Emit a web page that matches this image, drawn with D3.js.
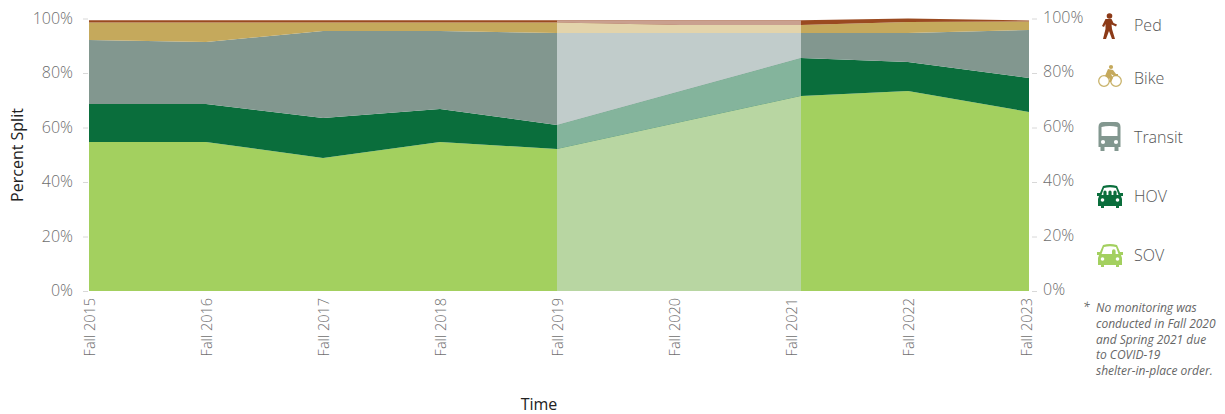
<!DOCTYPE html>
<html><head><meta charset="utf-8">
<script src="https://cdn.jsdelivr.net/npm/d3@7"></script>
<style>
html,body{margin:0;padding:0;background:#fff}
svg{display:block}
text{font-family:"Open Sans",sans-serif}
</style></head><body>
<svg id="c" width="1225" height="414"></svg>
<script>
const years=[2015,2016,2017,2018,2019,2020,2021,2022,2023];
const tickLabels=years.map(y=>"Fall "+y);
// Values are each mode's share in percent.
const sov=[54.7,54.7,48.8,54.7,52.1,61.8,71.6,73.4,65.7];
const hov=[13.9,13.9,14.7,12.1,8.8,11.4,13.9,10.6,12.5];
const transit=[23.5,22.8,31.9,28.6,33.8,21.5,9.2,10.7,17.6];
const bike=[6.4,7.1,3.1,3.1,3.8,2.9,2.9,4.0,3.1];
const ped=[0.9,0.9,0.9,0.9,0.9,1.8,1.8,1.3,0.4];
const seriesNames=["SOV","HOV","Transit","Bike","Ped"];
const seriesValues=[sov,hov,transit,bike,ped];
const seriesColors=["#a3d05f","#0a6e3c","#82978f","#c5a95c","#9a4a20"];
const fadedColors=["#b8d6a2","#84b49c","#c1cccb","#e3d4ab","#c9a08f"];
const yTicks=[0,20,40,60,80,100];
const noteLines=["No monitoring was","conducted in Fall 2020","and Spring 2021 due","to COVID-19","shelter-in-place order."];
const gapStart=2019,gapEnd=2021;

const svg=d3.select("#c");
const x=d3.scaleLinear().domain([2015,2019,2021,2022,2023]).range([89,557,801,908,1029]);
const xTick=d3.scalePoint().domain(tickLabels).range([89,1026]);
const y=d3.scaleLinear().domain([0,100]).range([291,18.5]);

const rows=years.map((yr,i)=>{const r={year:yr};seriesNames.forEach((n,j)=>r[n]=seriesValues[j][i]);return r;});
const stacked=d3.stack().keys(seriesNames)(rows);
const area=d3.area().x(d=>x(d.data.year)).y0(d=>y(d[0])).y1(d=>y(d[1]));

svg.append("defs").append("clipPath").attr("id","gap").append("rect")
  .attr("x",x(gapStart)).attr("width",x(gapEnd)-x(gapStart)).attr("y",0).attr("height",y(0));

svg.append("g").selectAll("path").data(stacked).join("path")
  .attr("d",area).attr("fill",(d,i)=>seriesColors[i]);
svg.append("g").attr("clip-path","url(#gap)").selectAll("path").data(stacked).join("path")
  .attr("d",area).attr("fill",(d,i)=>fadedColors[i]);

// y axes
function styleAxis(g){
  g.select(".domain").remove();
  g.selectAll("line").attr("stroke","#d8d8d8");
  g.selectAll("text").attr("fill","#6e6e6e").attr("font-size",16).attr("font-weight",300);
}
const fmt=d=>d+"%";
svg.append("g").attr("transform","translate(88,0)")
  .call(d3.axisLeft(y).tickValues(yTicks).tickFormat(fmt).tickSize(5).tickPadding(10))
  .call(styleAxis).selectAll("text").attr("dy","0.3em");
svg.append("g").attr("transform","translate(1032,0)")
  .call(d3.axisRight(y).tickValues(yTicks).tickFormat(fmt).tickSize(5).tickPadding(6))
  .call(styleAxis).selectAll("text").attr("dy","0.22em");

// x axis
const gx=svg.append("g").attr("transform","translate(0,291)")
  .call(d3.axisBottom(xTick).tickSize(0).tickPadding(0));
gx.select(".domain").remove();
gx.selectAll("text").attr("fill","#6e6e6e").attr("font-size",14.5).attr("font-weight",300)
  .attr("text-anchor","end").attr("dy",null).attr("y",null)
  .attr("transform","translate(5,7) rotate(-90)");

svg.append("text").attr("x",539).attr("y",410).attr("text-anchor","middle")
  .attr("font-size",16).attr("fill","#222").text("Time");
svg.append("text").attr("transform","translate(23,155) rotate(-90)").attr("text-anchor","middle")
  .attr("font-size",16).attr("fill","#222").text("Percent Split");

// legend
const legendY={Ped:25,Bike:78,Transit:137,HOV:196,SOV:255};
const legend=svg.append("g").selectAll("g").data(seriesNames).join("g");
legend.append("text").attr("x",1134).attr("y",d=>legendY[d]+5.5).attr("font-size",16)
  .attr("font-weight",300).attr("fill","#555").text(d=>d);

const car=(c,people)=>g=>{
  g.append("path").attr("fill",c).attr("fill-rule","evenodd").attr("d",
   "M-7,-10 Q0,-12 7,-10 L10,-3 L13,-3 L13,0 L11,0 L12,3 L12,10 L9,10 L9,12 L6,12 L6,10 L-6,10 L-6,12 L-9,12 L-9,10 L-12,10 L-12,3 L-11,0 L-13,0 L-13,-3 L-10,-3 Z "+
   "M-6,-8 L-8.5,-1 L8.5,-1 L6,-8 Q0,-9.5 -6,-8 Z");
  g.selectAll("circle.h").data([-7.5,7.5]).join("circle").attr("cx",d=>d).attr("cy",4).attr("r",1.8).attr("fill","#fff");
  if(people) g.selectAll("path.p").data([-5,0,5]).join("path").attr("fill",c)
    .attr("d",d=>`M${d-1.6},-1 L${d-1.6},-4 A1.6,1.6 0 1 1 ${d+1.6},-4 L${d+1.6},-1 Z`);
  else g.append("path").attr("fill",c).attr("d","M2,-1 L2,-4 A1.8,1.8 0 1 1 5.6,-4 L5.6,-1 Z");
};
const icons={
 Ped:g=>{
  g.append("circle").attr("cx",0.5).attr("cy",-11).attr("r",2.8).attr("fill","#8c3a17");
  g.append("path").attr("fill","#8c3a17").attr("d",
   "M-3.5,-8 L2.5,-8 L4.5,-4 L8,-2.5 L7,-0.5 L2.5,-2.5 L3,2 L6,12 L3,12 L0,4 L-3,12 L-6,12 L-3.5,2 L-3.5,-3 L-5,0 L-7,-1 Z");
 },
 Bike:g=>{
  g.selectAll("circle.w").data([-6,6]).join("circle").attr("cx",d=>d).attr("cy",5).attr("r",5.3)
   .attr("fill","none").attr("stroke","#c9b36b").attr("stroke-width",1.3);
  g.append("circle").attr("cx",1).attr("cy",-9).attr("r",2.1).attr("fill","#c5a95c");
  g.append("path").attr("fill","#c5a95c").attr("d","M-2,-7 L3,-6 L6,-2 L8,-2 L8,0 L4,0 L1,-2 L3,2 L1,6 L-1,6 L0,3 L-5,0 Z");
 },
 Transit:g=>{
  g.append("path").attr("fill","#82978f").attr("fill-rule","evenodd").attr("d",
   "M-11,-10 Q-11,-15 -6,-15 L6,-15 Q11,-15 11,-10 L11,10 L9,10 L9,14 L5,14 L5,10 L-5,10 L-5,14 L-9,14 L-9,10 L-11,10 Z "+
   "M-8,-10 L-8,-1 L8,-1 L8,-10 Q0,-12 -8,-10 Z");
  g.selectAll("circle").data([-6.5,6.5]).join("circle").attr("cx",d=>d).attr("cy",5).attr("r",2.1).attr("fill","#fff");
 },
 HOV:car("#0a6e3c",true),
 SOV:car("#a3d05f",false)
};
const iconPos={Ped:[1109,27],Bike:[1110,76],Transit:[1109.5,137],HOV:[1110,196],SOV:[1110,255]};
legend.append("g").attr("transform",d=>`translate(${iconPos[d][0]},${iconPos[d][1]})`)
  .each(function(d){icons[d](d3.select(this));});

// note
const note=svg.append("g").attr("font-size",12).attr("font-style","italic").attr("fill","#666");
note.append("text").attr("x",1083).attr("y",311).text("*");
note.selectAll("text.l").data(noteLines).join("text").attr("class","l").attr("x",1096)
  .attr("y",(d,i)=>312+i*15.75).text(d=>d);
</script>
</body></html>
